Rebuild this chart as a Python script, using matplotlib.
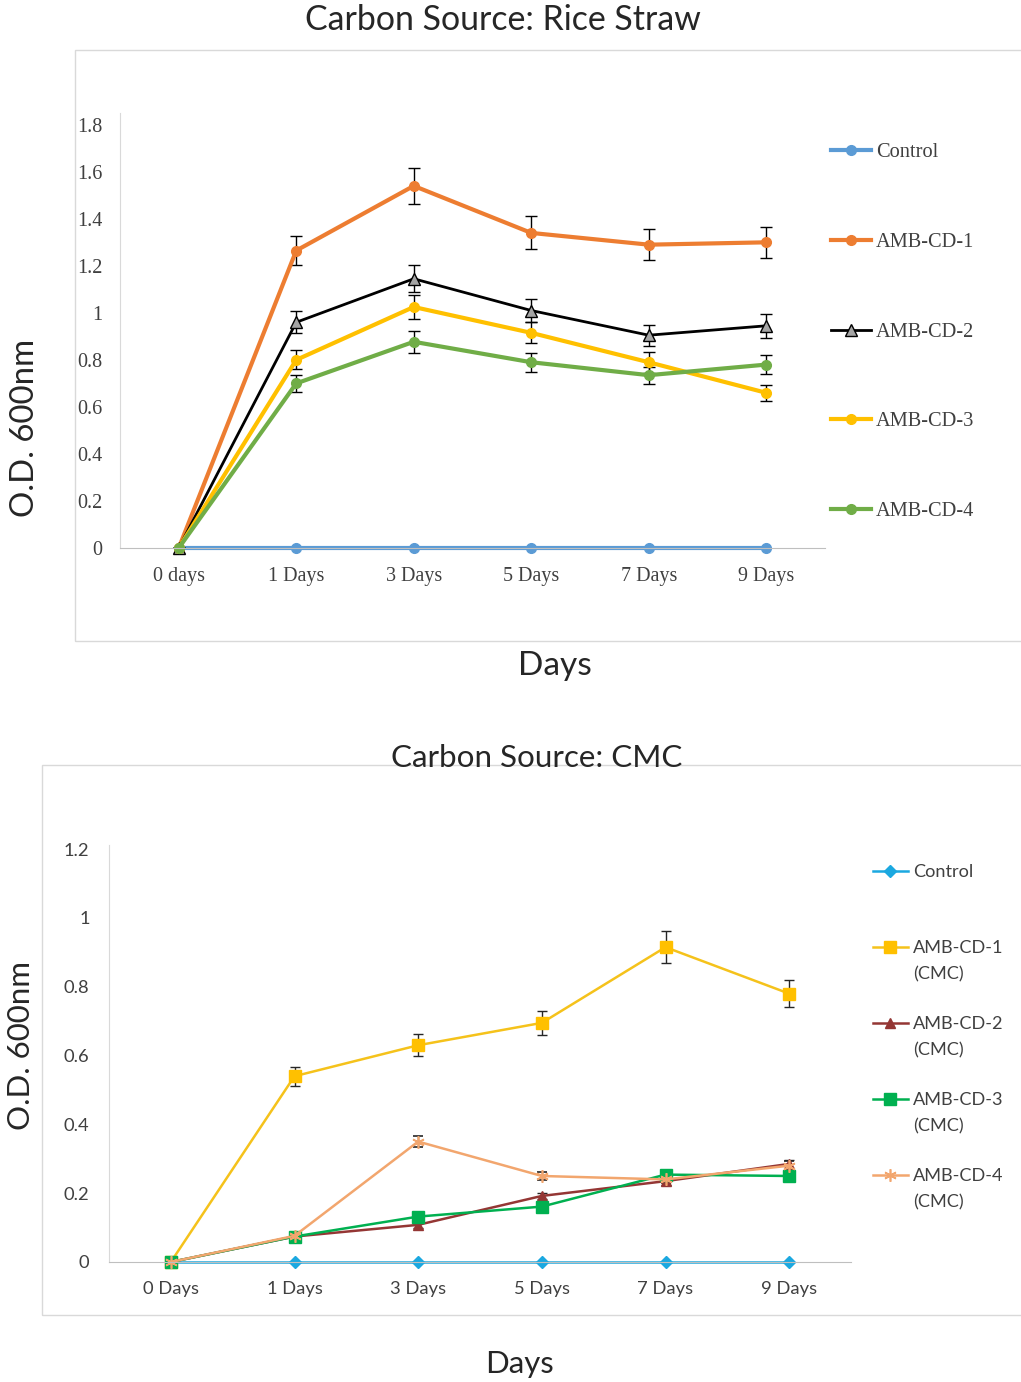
import numpy as np
import matplotlib.pyplot as plt
from matplotlib.patches import Rectangle

# ---- data: rice straw ----
rs_days = ['0 days', '1 Days', '3 Days', '5 Days', '7 Days', '9 Days']
rs_control = [0, 0, 0, 0, 0, 0]
rs_cd1 = [0, 1.265, 1.54, 1.34, 1.29, 1.30]
rs_cd2 = [0, 0.96, 1.145, 1.01, 0.905, 0.945]
rs_cd3 = [0, 0.80, 1.025, 0.915, 0.79, 0.66]
rs_cd4 = [0, 0.70, 0.877, 0.79, 0.735, 0.78]
rs_cd1_err = [0, 0.062, 0.078, 0.07, 0.066, 0.066]
rs_cd2_err = [0, 0.047, 0.057, 0.049, 0.045, 0.05]
rs_cd3_err = [0, 0.04, 0.05, 0.045, 0.045, 0.034]
rs_cd4_err = [0, 0.036, 0.047, 0.04, 0.036, 0.04]
rs_yticks = [0, 0.2, 0.4, 0.6, 0.8, 1.0, 1.2, 1.4, 1.6, 1.8]
rs_yticklabels = ['0', '0.2', '0.4', '0.6', '0.8', '1', '1.2', '1.4', '1.6', '1.8']
rs_labels = ['Control', 'AMB-CD-1', 'AMB-CD-2', 'AMB-CD-3', 'AMB-CD-4']

# ---- data: CMC ----
cmc_days = ['0 Days', '1 Days', '3 Days', '5 Days', '7 Days', '9 Days']
cmc_control = [0, 0, 0, 0, 0, 0]
cmc_cd1 = [0, 0.54, 0.63, 0.695, 0.915, 0.78]
cmc_cd2 = [0, 0.074, 0.108, 0.192, 0.235, 0.285]
cmc_cd3 = [0, 0.074, 0.132, 0.161, 0.254, 0.25]
cmc_cd4 = [0, 0.076, 0.35, 0.25, 0.24, 0.28]
cmc_cd1_err = [0, 0.028, 0.032, 0.035, 0.047, 0.039]
cmc_cd2_err = [0, 0.008, 0.008, 0.01, 0.01, 0.012]
cmc_cd3_err = [0, 0.008, 0.008, 0.01, 0.01, 0.01]
cmc_cd4_err = [0, 0.008, 0.015, 0.012, 0.01, 0.014]
cmc_yticks = [0, 0.2, 0.4, 0.6, 0.8, 1.0, 1.2]
cmc_yticklabels = ['0', '0.2', '0.4', '0.6', '0.8', '1', '1.2']
cmc_labels = ['Control', 'AMB-CD-1', 'AMB-CD-2', 'AMB-CD-3', 'AMB-CD-4']

W, H = 1021, 1382
fig = plt.figure(figsize=(W / 100, H / 100), dpi=100)
serif = 'Liberation Serif'
sans = 'Lato'


def fx(px):
    return px / W


def fy(py):
    return 1 - py / H


def style_axes(ax, font, size):
    for s in ['top', 'right']:
        ax.spines[s].set_visible(False)
    ax.spines['left'].set_color('#D9D9D9')
    ax.spines['bottom'].set_color('#BFBFBF')
    ax.tick_params(length=0, labelsize=size, colors='#404040')
    for lab in ax.get_xticklabels() + ax.get_yticklabels():
        lab.set_fontfamily(font)


# chart area boxes
fig.patches.append(Rectangle((fx(75), fy(641)), fx(1021 - 75) + 0.01, (641 - 50) / H,
                             transform=fig.transFigure, fill=False, edgecolor='#D9D9D9', lw=1))
fig.patches.append(Rectangle((fx(42), fy(1315)), fx(1021 - 42) + 0.01, (1315 - 765) / H,
                             transform=fig.transFigure, fill=False, edgecolor='#D9D9D9', lw=1))

# ---- top chart ----
ax1 = fig.add_axes([fx(120), fy(548), fx(825 - 120), (548 - 113) / H])
x = np.arange(len(rs_days))
ekw = dict(ecolor='black', elinewidth=1, capsize=4, capthick=1)
h0, = ax1.plot(x, rs_control, color='#5B9BD5', lw=3, marker='o', ms=7, clip_on=False, zorder=2)
h1 = ax1.errorbar(x, rs_cd1, yerr=rs_cd1_err, color='#ED7D31', lw=3, marker='o', ms=7, **ekw)
h2 = ax1.errorbar(x, rs_cd2, yerr=rs_cd2_err, color='black', lw=2, marker='^', ms=8,
                  mfc='#A5A5A5', mec='black', **ekw)
h3 = ax1.errorbar(x, rs_cd3, yerr=rs_cd3_err, color='#FFC000', lw=3, marker='o', ms=7, **ekw)
h4 = ax1.errorbar(x, rs_cd4, yerr=rs_cd4_err, color='#70AD47', lw=3, marker='o', ms=7, **ekw)
for c in (h1, h2, h3, h4):
    c[0].set_clip_on(False)
ax1.set_xlim(-0.5, len(rs_days) - 0.5)
ax1.set_ylim(0, 1.85)
ax1.set_xticks(x)
ax1.set_xticklabels(rs_days)
ax1.set_yticks(rs_yticks)
ax1.set_yticklabels(rs_yticklabels)
style_axes(ax1, serif, 14.5)
ax1.tick_params(axis='y', pad=12.5)
ax1.tick_params(axis='x', pad=13.5)

fig.legend([h0, h1[0], h2[0], h3[0], h4[0]], rs_labels,
           loc='upper left', bbox_to_anchor=(fx(831), fy(143)), frameon=False,
           prop={'family': serif, 'size': 14.7}, labelspacing=3.45, handlelength=1.96,
           handletextpad=0.25, borderpad=0, borderaxespad=0, labelcolor='#404040')

fig.text(fx(503), fy(20), 'Carbon Source: Rice Straw', ha='center', va='center',
         fontsize=24.4, family=sans, color='#262626')
fig.text(fx(25), fy(428), 'O.D. 600nm', ha='center', va='center', rotation=90,
         fontsize=23.7, family=sans, color='#262626')
fig.text(fx(555), fy(666), 'Days', ha='center', va='center', fontsize=24, family=sans,
         color='#262626')

# ---- bottom chart ----
ax2 = fig.add_axes([fx(109), fy(1262), fx(851 - 109), (1262 - 845) / H])
x = np.arange(len(cmc_days))
ekw2 = dict(ecolor='#262626', elinewidth=1, capsize=3.5, capthick=1)
g0, = ax2.plot(x, cmc_control, color='#1BA8E0', lw=1.8, marker='D', ms=6, clip_on=False)
g1 = ax2.errorbar(x, cmc_cd1, yerr=cmc_cd1_err, color='#F5C21B', lw=1.8, marker='s', ms=8,
                  mfc='#FFC000', mec='#FFC000', **ekw2)
g2 = ax2.errorbar(x, cmc_cd2, yerr=cmc_cd2_err, color='#943634', lw=1.8, marker='^', ms=7, **ekw2)
g3 = ax2.errorbar(x, cmc_cd3, yerr=cmc_cd3_err, color='#00B050', lw=1.8, marker='s', ms=8, **ekw2)
g4 = ax2.errorbar(x, cmc_cd4, yerr=cmc_cd4_err, color='#F2A66E', lw=1.8,
                  marker=(6, 2, 0), ms=9, mew=1.2, **ekw2)
for c in (g1, g2, g3, g4):
    c[0].set_clip_on(False)
ax2.set_xlim(-0.5, len(cmc_days) - 0.5)
ax2.set_ylim(0, 1.212)
ax2.set_xticks(x)
ax2.set_xticklabels(cmc_days)
ax2.set_yticks(cmc_yticks)
ax2.set_yticklabels(cmc_yticklabels)
style_axes(ax2, sans, 13.2)
ax2.tick_params(axis='y', pad=14)
ax2.tick_params(axis='x', pad=14)

leg2 = fig.legend([g0, g1[0], g2[0], g3[0], g4[0]], cmc_labels,
                  loc='upper left', bbox_to_anchor=(fx(873), fy(864)), frameon=False,
                  prop={'family': sans, 'size': 13.1}, labelspacing=3.3, handlelength=1.9,
                  handletextpad=0.3, borderpad=0, borderaxespad=0, labelcolor='#404040')

# second line "(CMC)" under each strain label
fig.canvas.draw()
inv = fig.transFigure.inverted()
for t in leg2.get_texts()[1:]:
    bb = t.get_window_extent().transformed(inv)
    fig.text(bb.x0, bb.y0 - 26 / H, '(CMC)', ha='left', va='bottom', family=sans,
             fontsize=13.1, color='#404040')

fig.text(fx(537), fy(758), 'Carbon Source: CMC', ha='center', va='center',
         fontsize=22.6, family=sans, color='#262626')
fig.text(fx(21), fy(1046), 'O.D. 600nm', ha='center', va='center', rotation=90,
         fontsize=22.5, family=sans, color='#262626')
fig.text(fx(519), fy(1364), 'Days', ha='center', va='center', fontsize=22.4, family=sans,
         color='#262626')

fig.savefig('out.png', dpi=100)
